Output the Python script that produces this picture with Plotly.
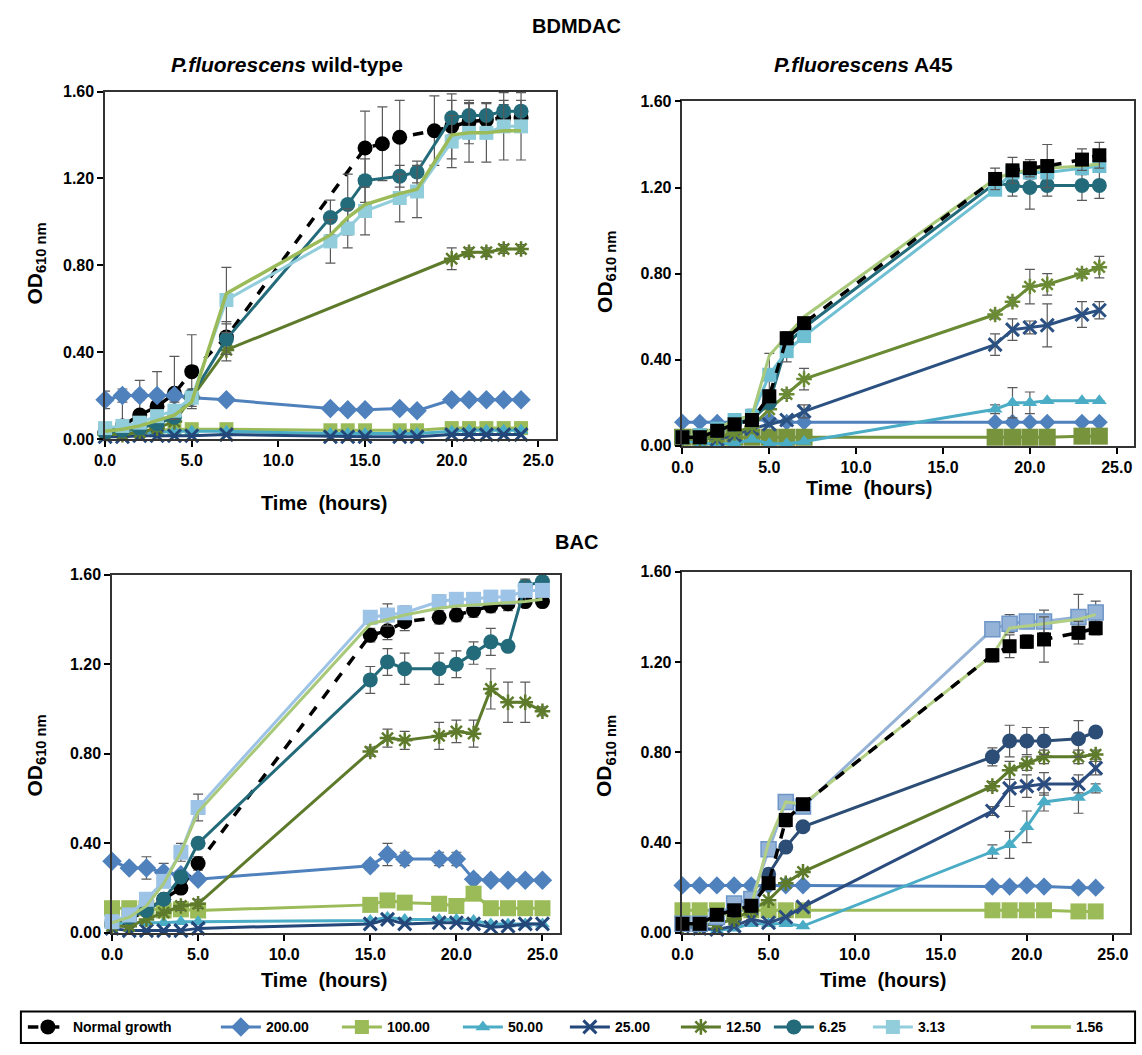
import plotly.graph_objects as go

W, H = 1142, 1055

# ---------------- DATA ----------------
series_names = ["Normal growth", "200.00", "100.00", "50.00", "25.00", "12.50", "6.25", "3.13", "1.56"]
x_ticks = [0, 5, 10, 15, 20, 25]
y_ticks = [0.0, 0.4, 0.8, 1.2, 1.6]

# Panel 1: BDMDAC, wild-type
t_wt_bdm = [0, 1, 2, 3, 4, 5, 7, 13, 14, 15, 17, 18, 20, 21, 22, 23, 24]
t_wt_bdm_normal = [0, 1, 2, 3, 4, 5, 7, 15, 16, 17, 19, 20, 21, 22, 23, 24]
t_wt_bdm_1250 = [0, 1, 2, 3, 4, 5, 7, 20, 21, 22, 23, 24]
wt_bdm_normal = [0.03, 0.06, 0.11, 0.15, 0.21, 0.31, 0.47, 1.34, 1.36, 1.39, 1.42, 1.44, 1.46, 1.47, 1.48, 1.48]
wt_bdm_normal_err = [0.03, 0.14, 0.16, 0.16, 0.17, 0.17, 0.07, 0.17, 0.17, 0.17, 0.16, 0.15, 0.10, 0.08, 0.06, 0.05]
wt_bdm_200 = [0.18, 0.20, 0.20, 0.20, 0.20, 0.19, 0.18, 0.14, 0.135, 0.135, 0.14, 0.13, 0.18, 0.18, 0.18, 0.18, 0.18]
wt_bdm_200_err = [0.04, 0.03, 0.02, 0.02, 0.02, 0.02, 0.01, 0, 0, 0, 0, 0, 0, 0, 0, 0, 0]
wt_bdm_100 = [0.04, 0.04, 0.04, 0.04, 0.045, 0.045, 0.045, 0.04, 0.04, 0.04, 0.04, 0.04, 0.05, 0.05, 0.05, 0.05, 0.05]
wt_bdm_50 = [0.03, 0.03, 0.03, 0.03, 0.035, 0.035, 0.035, 0.025, 0.025, 0.025, 0.025, 0.025, 0.035, 0.04, 0.04, 0.04, 0.04]
wt_bdm_25 = [0.01, 0.01, 0.015, 0.015, 0.015, 0.015, 0.02, 0.01, 0.01, 0.01, 0.01, 0.01, 0.02, 0.02, 0.02, 0.02, 0.02]
wt_bdm_1250 = [0.02, 0.02, 0.03, 0.05, 0.08, 0.19, 0.41, 0.83, 0.86, 0.86, 0.875, 0.875]
wt_bdm_1250_err = [0, 0, 0, 0, 0, 0, 0.05, 0.05, 0.02, 0.02, 0.02, 0.02]
wt_bdm_625 = [0.03, 0.04, 0.05, 0.07, 0.10, 0.20, 0.46, 1.02, 1.08, 1.19, 1.21, 1.23, 1.48, 1.49, 1.49, 1.51, 1.51]
wt_bdm_625_err = [0, 0, 0, 0, 0, 0, 0.07, 0.08, 0.14, 0.10, 0.05, 0.05, 0.08, 0.06, 0.06, 0.05, 0.05]
wt_bdm_313 = [0.05, 0.06, 0.075, 0.105, 0.13, 0.19, 0.64, 0.91, 0.97, 1.05, 1.11, 1.14, 1.37, 1.41, 1.41, 1.44, 1.44]
wt_bdm_313_err = [0, 0, 0, 0, 0.04, 0.04, 0.15, 0.10, 0.09, 0.11, 0.11, 0.12, 0.12, 0.135, 0.135, 0.155, 0.155]
wt_bdm_156 = [0.035, 0.045, 0.06, 0.085, 0.11, 0.17, 0.67, 0.94, 1.02, 1.08, 1.13, 1.15, 1.40, 1.41, 1.41, 1.42, 1.42]

# Panel 2: BDMDAC, A45
t_a45_bdm = [0, 1, 2, 3, 4, 5, 6, 7, 18, 19, 20, 21, 23, 24]
a45_bdm_normal = [0.04, 0.04, 0.07, 0.10, 0.12, 0.23, 0.50, 0.57, 1.24, 1.28, 1.29, 1.30, 1.33, 1.35]
a45_bdm_normal_err = [0.01, 0.01, 0.01, 0.02, 0.02, 0.03, 0.03, 0.02, 0.05, 0.06, 0.04, 0.10, 0.05, 0.06]
a45_bdm_200 = [0.11, 0.11, 0.11, 0.11, 0.12, 0.12, 0.11, 0.11, 0.11, 0.11, 0.11, 0.11, 0.11, 0.11]
a45_bdm_100 = [0.04, 0.04, 0.04, 0.04, 0.04, 0.04, 0.04, 0.04, 0.04, 0.04, 0.04, 0.04, 0.045, 0.045]
a45_bdm_50 = [0.03, 0.01, 0.01, 0.01, 0.03, 0.01, 0.01, 0.02, 0.17, 0.20, 0.20, 0.21, 0.21, 0.21]
a45_bdm_50_err = [0, 0, 0, 0, 0, 0, 0, 0, 0.02, 0.07, 0.05, 0, 0, 0]
a45_bdm_25 = [0.04, 0.04, 0.03, 0.05, 0.08, 0.10, 0.12, 0.16, 0.47, 0.54, 0.55, 0.56, 0.61, 0.63]
a45_bdm_25_err = [0, 0, 0, 0, 0, 0, 0, 0.03, 0.05, 0.05, 0.03, 0.10, 0.06, 0.04]
a45_bdm_1250 = [0.03, 0.03, 0.04, 0.06, 0.09, 0.17, 0.24, 0.31, 0.61, 0.67, 0.74, 0.75, 0.80, 0.83]
a45_bdm_1250_err = [0, 0, 0, 0, 0, 0, 0.02, 0.05, 0.02, 0.02, 0.08, 0.05, 0.02, 0.05]
a45_bdm_625 = [0.04, 0.04, 0.07, 0.10, 0.12, 0.20, 0.47, 0.55, 1.22, 1.21, 1.20, 1.21, 1.21, 1.21]
a45_bdm_625_err = [0, 0, 0, 0, 0, 0, 0, 0, 0.03, 0.05, 0.10, 0.05, 0.07, 0.06]
a45_bdm_313 = [0.04, 0.05, 0.08, 0.12, 0.14, 0.33, 0.44, 0.51, 1.19, 1.27, 1.27, 1.27, 1.29, 1.30]
a45_bdm_313_err = [0, 0, 0, 0.02, 0.03, 0.10, 0.05, 0.02, 0.02, 0.03, 0.03, 0.03, 0.03, 0.03]
a45_bdm_156 = [0.04, 0.05, 0.08, 0.12, 0.14, 0.42, 0.51, 0.60, 1.24, 1.27, 1.28, 1.29, 1.30, 1.31]

# Panel 3: BAC, wild-type
t_wt_bac = [0, 1, 2, 3, 4, 5, 15, 16, 17, 19, 20, 21, 22, 23, 24, 25]
wt_bac_normal = [0.04, 0.06, 0.10, 0.15, 0.20, 0.31, 1.33, 1.35, 1.39, 1.41, 1.42, 1.44, 1.46, 1.47, 1.48, 1.48]
wt_bac_normal_err = [0, 0, 0, 0, 0.02, 0.03, 0.03, 0.04, 0.04, 0.03, 0.03, 0.03, 0.03, 0.03, 0.02, 0.02]
wt_bac_200 = [0.32, 0.29, 0.29, 0.27, 0.26, 0.24, 0.30, 0.35, 0.33, 0.33, 0.33, 0.24, 0.235, 0.235, 0.235, 0.235]
wt_bac_200_err = [0, 0, 0.05, 0.04, 0, 0, 0.02, 0.05, 0.03, 0.03, 0.03, 0.02, 0, 0, 0, 0]
wt_bac_100 = [0.11, 0.11, 0.11, 0.10, 0.105, 0.10, 0.125, 0.145, 0.135, 0.13, 0.12, 0.175, 0.11, 0.11, 0.11, 0.11]
wt_bac_50 = [0.04, 0.045, 0.045, 0.045, 0.05, 0.05, 0.055, 0.07, 0.06, 0.06, 0.06, 0.055, 0.04, 0.04, 0.04, 0.04]
wt_bac_25 = [0.02, 0.01, 0.01, 0.01, 0.01, 0.02, 0.04, 0.06, 0.04, 0.045, 0.045, 0.04, 0.025, 0.03, 0.04, 0.04]
wt_bac_1250 = [0.03, 0.03, 0.06, 0.09, 0.12, 0.13, 0.81, 0.87, 0.86, 0.88, 0.90, 0.89, 1.09, 1.03, 1.03, 0.99]
wt_bac_1250_err = [0, 0, 0, 0, 0.02, 0.02, 0.02, 0.04, 0.04, 0.06, 0.05, 0.06, 0.09, 0.09, 0.09, 0.02]
wt_bac_625 = [0.05, 0.07, 0.10, 0.15, 0.25, 0.40, 1.13, 1.21, 1.18, 1.18, 1.20, 1.25, 1.30, 1.28, 1.55, 1.57]
wt_bac_625_err = [0, 0, 0, 0, 0.02, 0.02, 0.06, 0.06, 0.07, 0.07, 0.06, 0.05, 0.06, 0, 0.02, 0.02]
wt_bac_313 = [0.05, 0.08, 0.15, 0.23, 0.36, 0.56, 1.41, 1.42, 1.43, 1.48, 1.49, 1.49, 1.50, 1.50, 1.53, 1.53]
wt_bac_313_err = [0, 0, 0, 0, 0.04, 0.06, 0.03, 0.05, 0.03, 0.03, 0.03, 0.02, 0.02, 0.02, 0.05, 0.03]
wt_bac_156 = [0.045, 0.07, 0.12, 0.22, 0.36, 0.54, 1.38, 1.40, 1.42, 1.45, 1.46, 1.465, 1.47, 1.475, 1.48, 1.49]

# Panel 4: BAC, A45
t_a45_bac = [0, 1, 2, 3, 4, 5, 6, 7, 18, 19, 20, 21, 23, 24]
a45_bac_normal = [0.04, 0.04, 0.08, 0.10, 0.12, 0.22, 0.50, 0.57, 1.23, 1.27, 1.29, 1.30, 1.33, 1.35]
a45_bac_normal_err = [0.01, 0.01, 0.01, 0.01, 0.02, 0.02, 0.03, 0.02, 0.03, 0.05, 0.03, 0.10, 0.05, 0.03]
a45_bac_200 = [0.21, 0.21, 0.21, 0.21, 0.21, 0.21, 0.21, 0.21, 0.205, 0.205, 0.21, 0.205, 0.20, 0.20]
a45_bac_100 = [0.10, 0.10, 0.10, 0.10, 0.10, 0.10, 0.10, 0.10, 0.10, 0.10, 0.10, 0.10, 0.095, 0.095]
a45_bac_50 = [0.03, 0.02, 0.01, 0.02, 0.04, 0.04, 0.04, 0.03, 0.36, 0.39, 0.47, 0.58, 0.60, 0.64]
a45_bac_50_err = [0, 0, 0, 0, 0, 0, 0, 0, 0.03, 0.06, 0.07, 0.04, 0.07, 0.02]
a45_bac_25 = [0.03, 0.02, 0.015, 0.03, 0.06, 0.045, 0.07, 0.115, 0.54, 0.64, 0.65, 0.66, 0.66, 0.73]
a45_bac_25_err = [0, 0, 0, 0, 0, 0, 0, 0, 0.02, 0.08, 0.05, 0.05, 0.04, 0.03]
a45_bac_1250 = [0.03, 0.03, 0.04, 0.06, 0.10, 0.145, 0.22, 0.27, 0.65, 0.72, 0.75, 0.78, 0.78, 0.79]
a45_bac_1250_err = [0, 0, 0, 0, 0, 0, 0, 0, 0.02, 0.04, 0.03, 0.03, 0.03, 0.02]
a45_bac_625 = [0.04, 0.04, 0.07, 0.10, 0.12, 0.26, 0.38, 0.47, 0.78, 0.85, 0.85, 0.85, 0.86, 0.89]
a45_bac_625_err = [0, 0, 0, 0, 0, 0, 0, 0, 0.04, 0.07, 0.06, 0.06, 0.08, 0]
a45_bac_313 = [0.04, 0.04, 0.07, 0.13, 0.15, 0.37, 0.58, 0.56, 1.345, 1.37, 1.38, 1.38, 1.40, 1.42]
a45_bac_313_err = [0, 0, 0, 0, 0, 0, 0, 0, 0.02, 0.04, 0.03, 0.05, 0.10, 0.05]
a45_bac_156 = [0.04, 0.04, 0.07, 0.10, 0.12, 0.40, 0.58, 0.57, 1.23, 1.35, 1.36, 1.37, 1.39, 1.41]

# ---------------- STYLE ----------------
FONT = "Liberation Sans, Arial, sans-serif"
ERR_COLOR = "#5a5a5a"


def px(x):
    return x / W


def py(y):
    return 1 - y / H


# plot-area pixel boxes (left, right, top, bottom)
boxes = {
    1: (95, 550, 85, 438),
    2: (678, 1134, 95, 445),
    3: (102, 554, 576, 940),
    4: (678, 1130, 573, 940),
}

fig = go.Figure()


def err(arr):
    if arr is None:
        return None
    return dict(type="data", array=arr, visible=True, color=ERR_COLOR,
                thickness=1.2, width=5)


def add(panel, name, t, y, color, symbol=None, size=13, dash="solid", lw=3,
        e=None, mline=None, legend=False, lwidth=None, mlw=0):
    ax = "" if panel == 1 else str(panel)
    mode = "lines+markers" if symbol else "lines"
    marker = None
    if symbol:
        marker = dict(symbol=symbol, size=size, color=color,
                      line=dict(color=mline if mline else color, width=mlw))
    fig.add_trace(go.Scatter(
        x=t, y=y, mode=mode, name=name,
        line=dict(color=color, width=lw, dash=dash),
        marker=marker, error_y=err(e), cliponaxis=False,
        xaxis="x" + ax, yaxis="y" + ax, showlegend=legend,
        legendwidth=lwidth,
    ))


lw_legend = [138, 66, 66, 52, 56, 38, 44, 103, 40]

# Panel 1
add(1, "Normal growth", t_wt_bdm_normal, wt_bdm_normal, "black", "circle", 15, "dash", 3.5, wt_bdm_normal_err, legend=True, lwidth=lw_legend[0])
add(1, "200.00", t_wt_bdm, wt_bdm_200, "#4F81BD", "diamond", 15, e=wt_bdm_200_err, legend=True, lwidth=lw_legend[1])
add(1, "100.00", t_wt_bdm, wt_bdm_100, "#9BBB59", "square", 14, legend=True, lwidth=lw_legend[2])
add(1, "50.00", t_wt_bdm, wt_bdm_50, "#4BACC6", "triangle-up", 13, legend=True, lwidth=lw_legend[3])
add(1, "25.00", t_wt_bdm, wt_bdm_25, "#24477A", "x-thin-open", 13, mlw=3, legend=True, lwidth=lw_legend[4])
add(1, "12.50", t_wt_bdm_1250, wt_bdm_1250, "#5E7B2C", "asterisk-open", 13, e=wt_bdm_1250_err, mlw=2.5, legend=True, lwidth=lw_legend[5])
add(1, "6.25", t_wt_bdm, wt_bdm_625, "#236B7A", "circle", 15, e=wt_bdm_625_err, legend=True, lwidth=lw_legend[6])
add(1, "3.13", t_wt_bdm, wt_bdm_313, "#92CDDC", "square", 14, e=wt_bdm_313_err, legend=True, lwidth=lw_legend[7])
add(1, "1.56", t_wt_bdm, wt_bdm_156, "#9BBB59", None, lw=3.5, legend=True, lwidth=lw_legend[8])

# Panel 2
add(2, "200.00", t_a45_bdm, a45_bdm_200, "#4F81BD", "diamond", 13)
add(2, "100.00", t_a45_bdm, a45_bdm_100, "#77933C", "square", 17)
add(2, "50.00", t_a45_bdm, a45_bdm_50, "#4BACC6", "triangle-up", 13, e=a45_bdm_50_err)
add(2, "25.00", t_a45_bdm, a45_bdm_25, "#2B5182", "x-thin-open", 13, e=a45_bdm_25_err, mlw=3)
add(2, "12.50", t_a45_bdm, a45_bdm_1250, "#6A8A34", "asterisk-open", 13, e=a45_bdm_1250_err, mlw=2.5)
add(2, "6.25", t_a45_bdm, a45_bdm_625, "#236B7A", "circle", 15, e=a45_bdm_625_err)
add(2, "3.13", t_a45_bdm, a45_bdm_313, "#6FBFD3", "square", 14, e=a45_bdm_313_err)
add(2, "1.56", t_a45_bdm, a45_bdm_156, "#A9C97A", None, lw=3)
add(2, "Normal growth", t_a45_bdm, a45_bdm_normal, "black", "square", 14, "dash", 3.5, a45_bdm_normal_err)

# Panel 3
add(3, "Normal growth", t_wt_bac, wt_bac_normal, "black", "circle", 15, "dash", 3.5, wt_bac_normal_err)
add(3, "200.00", t_wt_bac, wt_bac_200, "#4F81BD", "diamond", 15, e=wt_bac_200_err)
add(3, "100.00", t_wt_bac, wt_bac_100, "#9BBB59", "square", 16)
add(3, "50.00", t_wt_bac, wt_bac_50, "#4BACC6", "triangle-up", 13)
add(3, "25.00", t_wt_bac, wt_bac_25, "#24477A", "x-thin-open", 13, mlw=3)
add(3, "12.50", t_wt_bac, wt_bac_1250, "#5E7B2C", "asterisk-open", 13, e=wt_bac_1250_err, mlw=2.5)
add(3, "6.25", t_wt_bac, wt_bac_625, "#236B7A", "circle", 15, e=wt_bac_625_err)
add(3, "3.13", t_wt_bac, wt_bac_313, "#9DC3E6", "square", 15, e=wt_bac_313_err)
add(3, "1.56", t_wt_bac, wt_bac_156, "#A9C97A", None, lw=3)

# Panel 4
add(4, "200.00", t_a45_bac, a45_bac_200, "#4F81BD", "diamond", 14)
add(4, "100.00", t_a45_bac, a45_bac_100, "#9BBB59", "square", 16)
add(4, "50.00", t_a45_bac, a45_bac_50, "#4BACC6", "triangle-up", 13, e=a45_bac_50_err)
add(4, "25.00", t_a45_bac, a45_bac_25, "#2B4C7E", "x-thin-open", 13, e=a45_bac_25_err, mlw=3)
add(4, "12.50", t_a45_bac, a45_bac_1250, "#5E7B2C", "asterisk-open", 13, e=a45_bac_1250_err, mlw=2.5)
add(4, "6.25", t_a45_bac, a45_bac_625, "#2C4D75", "circle", 15, e=a45_bac_625_err)
add(4, "3.13", t_a45_bac, a45_bac_313, "#95B3D7", "square", 15, e=a45_bac_313_err, mline="#6E96C8", mlw=1.5)
add(4, "1.56", t_a45_bac, a45_bac_156, "#B3CF84", None, lw=3)
add(4, "Normal growth", t_a45_bac, a45_bac_normal, "black", "square", 14, "dash", 3.5, a45_bac_normal_err)

tickfont = dict(family=FONT, size=16, color="black", weight="bold")
layout_axes = {}
for p, (l, r, t, b) in boxes.items():
    suf = "" if p == 1 else str(p)
    layout_axes["xaxis" + suf] = dict(
        domain=[px(l), px(r)], anchor="y" + suf, range=[0, 26],
        tickvals=x_ticks, tickformat=".1f", ticks="outside", ticklen=6,
        tickwidth=1.5, tickcolor="black", showline=True, linecolor="#333",
        linewidth=1.5, mirror=True, showgrid=False, zeroline=False,
        tickfont=tickfont, fixedrange=True,
    )
    layout_axes["yaxis" + suf] = dict(
        domain=[py(b), py(t)], anchor="x" + suf, range=[0, 1.6],
        tickvals=y_ticks, tickformat=".2f", ticks="outside", ticklen=6,
        tickwidth=1.5, tickcolor="black", showline=True, linecolor="#333",
        linewidth=1.5, mirror=True, showgrid=False, zeroline=False,
        tickfont=tickfont, fixedrange=True,
    )

ann = []


def text(x, y, s, size=20, angle=0):
    ann.append(dict(x=px(x), y=py(y), xref="paper", yref="paper", text=s,
                    showarrow=False, textangle=angle, xanchor="center", yanchor="middle",
                    font=dict(family=FONT, size=size, color="black")))


text(571, 18, "<b>BDMDAC</b>", 20)
text(279, 57, "<b><i>P.fluorescens</i> wild-type</b>", 21)
text(861, 57, "<b><i>P.fluorescens</i> A45</b>", 21)
text(571, 543, "<b>BAC</b>", 20)
text(316, 503, "<b>Time  (hours)</b>", 20)
text(866, 488, "<b>Time  (hours)</b>", 20)
text(316, 988, "<b>Time  (hours)</b>", 20)
text(880, 988, "<b>Time  (hours)</b>", 20)
for (xx, yy) in [(25, 260), (600, 268), (25, 760), (600, 760)]:
    text(xx, yy, "<b>OD<sub>610 nm</sub></b>", 21, -90)

fig.update_layout(
    width=W, height=H, margin=dict(l=0, r=0, t=0, b=0),
    paper_bgcolor="white", plot_bgcolor="white",
    annotations=ann,
    shapes=[dict(type="rect", xref="paper", yref="paper",
                 x0=px(10), x1=px(1135), y0=py(1052), y1=py(1020),
                 line=dict(color="black", width=2))],
    legend=dict(orientation="h", x=px(12), y=py(1036), xanchor="left", yanchor="middle",
                font=dict(family="Liberation Sans Narrow, Liberation Sans, Arial", size=14,
                          color="black", weight="bold"),
                bgcolor="rgba(0,0,0,0)", itemwidth=40, tracegroupgap=0),
    showlegend=True,
    **layout_axes,
)

fig.write_html("out.html")
